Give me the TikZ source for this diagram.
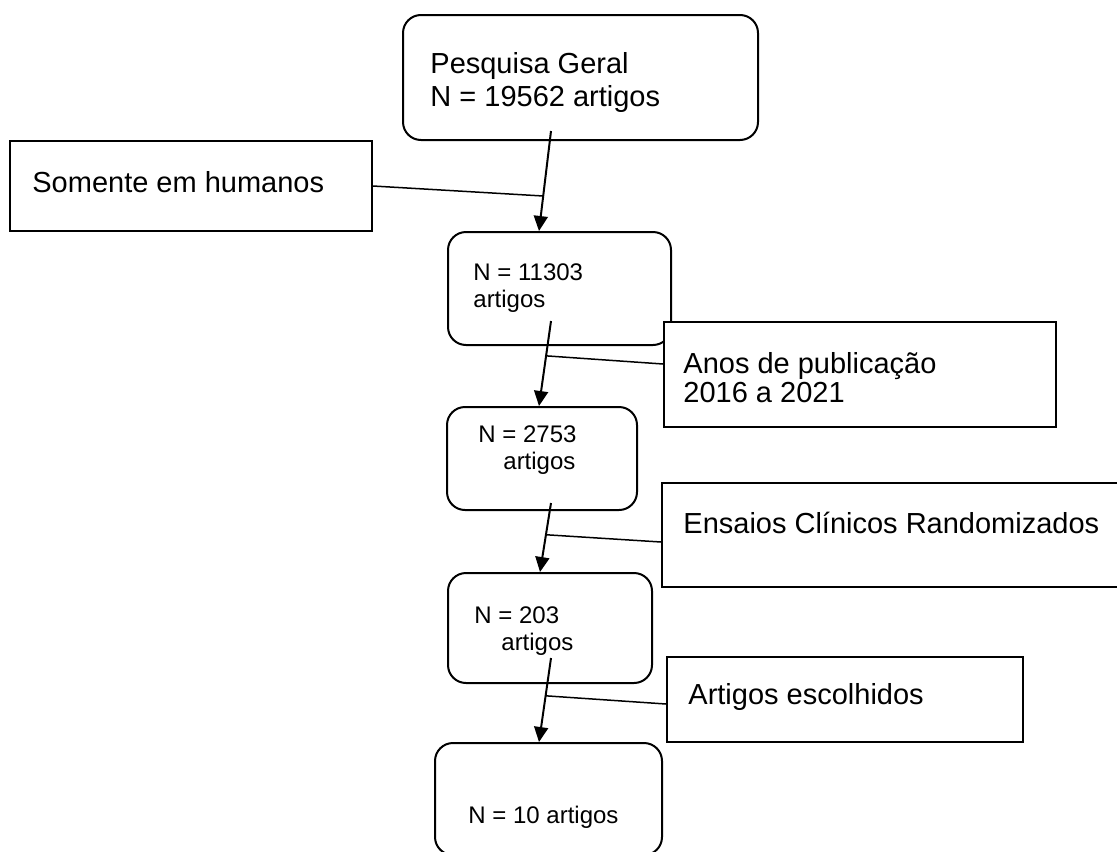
\documentclass[tikz,border=0pt]{standalone}
\usepackage{fontspec}
\setmainfont{Liberation Sans}
\usepackage{tikz}
\usetikzlibrary{arrows.meta}
\tikzstyle{rbox} = [rectangle, rounded corners=9pt, draw=black, line width=1pt, fill=white, inner sep=0pt]
\tikzstyle{sbox} = [rectangle, draw=black, line width=1pt, fill=white, inner sep=0pt]
\tikzstyle{txt} = [anchor=north west, inner sep=0pt, align=left]
\tikzstyle{arrow} = [line width=1pt, -{Triangle[width=7pt,length=7.5pt]}]
\tikzstyle{line} = [line width=0.75pt]
\newcommand{\bigfont}{\fontsize{14.5}{16.5}\selectfont}
\newcommand{\smallfont}{\fontsize{12}{13.5}\selectfont}

\begin{document}
\begin{tikzpicture}[x=0.5pt,y=-0.5pt]
\useasboundingbox (0,0) rectangle (1117,851);
%%
\node (geral) at (580.5,77.5) [rbox, minimum width=177.5pt, minimum height=62.5pt] {};
\node (humanos) at (191,186) [sbox, minimum width=181pt, minimum height=45pt] {};
\node (n11303) at (559.5,288.5) [rbox, minimum width=111.5pt, minimum height=56.5pt] {};
\node (anos) at (860,374.5) [sbox, minimum width=196pt, minimum height=52.5pt] {};
\node (n2753) at (542,458.5) [rbox, minimum width=95pt, minimum height=51.5pt] {};
\node (ensaios) at (893.5,535) [sbox, minimum width=231.5pt, minimum height=52pt] {};
\node (n203) at (550,628) [rbox, minimum width=102pt, minimum height=55pt] {};
\node (artigos) at (845,699.5) [sbox, minimum width=178pt, minimum height=42.5pt] {};
\node (n10) at (548.5,799) [rbox, minimum width=113.5pt, minimum height=56pt] {};
%%
\node (geraltxt) at (430,52) [txt, font=\bigfont] {Pesquisa Geral\\N = 19562 artigos};
\node (humanostxt) at (32,171) [txt, font=\bigfont] {Somente em humanos};
\node (n11303txt) at (473,263) [txt, font=\smallfont] {N = 11303\\artigos};
\node (anostxt) at (683,352) [txt, font=\fontsize{14.5}{14.5}\selectfont] {Anos de publicação\\2016 a 2021};
\node (n2753txt) at (478,425) [txt, font=\smallfont] {N = 2753\\\hspace*{12.5pt}artigos};
\node (ensaiostxt) at (683,512) [txt, font=\bigfont] {Ensaios Clínicos Randomizados};
\node (n203txt) at (474,606) [txt, font=\smallfont] {N = 203\\\hspace*{13.5pt}artigos};
\node (artigostxt) at (688,683) [txt, font=\bigfont] {Artigos escolhidos};
\node (n10txt) at (468,806) [txt, font=\smallfont] {N = 10 artigos};
%%
\draw [arrow] ([shift={(-29.5,-10)}]geral.south) -- coordinate[pos=0.65] (c1) ([shift={(-20.5,0)}]n11303.north);
\draw [arrow] ([shift={(-8.5,-25)}]n11303.south) -- coordinate[pos=0.41] (c2) ([shift={(-3,0)}]n2753.north);
\draw [arrow] ([shift={(9,-8)}]n2753.south) -- coordinate[pos=0.46] (c3) ([shift={(-10,0)}]n203.north);
\draw [arrow] ([shift={(1,-26)}]n203.south) -- coordinate[pos=0.45] (c4) ([shift={(-9.5,0)}]n10.north);
%%
\draw [line] (humanos.east) -- (c1);
\draw [line] ([shift={(0,-10.5)}]anos.west) -- (c2);
\draw [line] ([shift={(0,7)}]ensaios.west) -- (c3);
\draw [line] ([shift={(0,4.5)}]artigos.west) -- (c4);
%
\end{tikzpicture}
\end{document}
